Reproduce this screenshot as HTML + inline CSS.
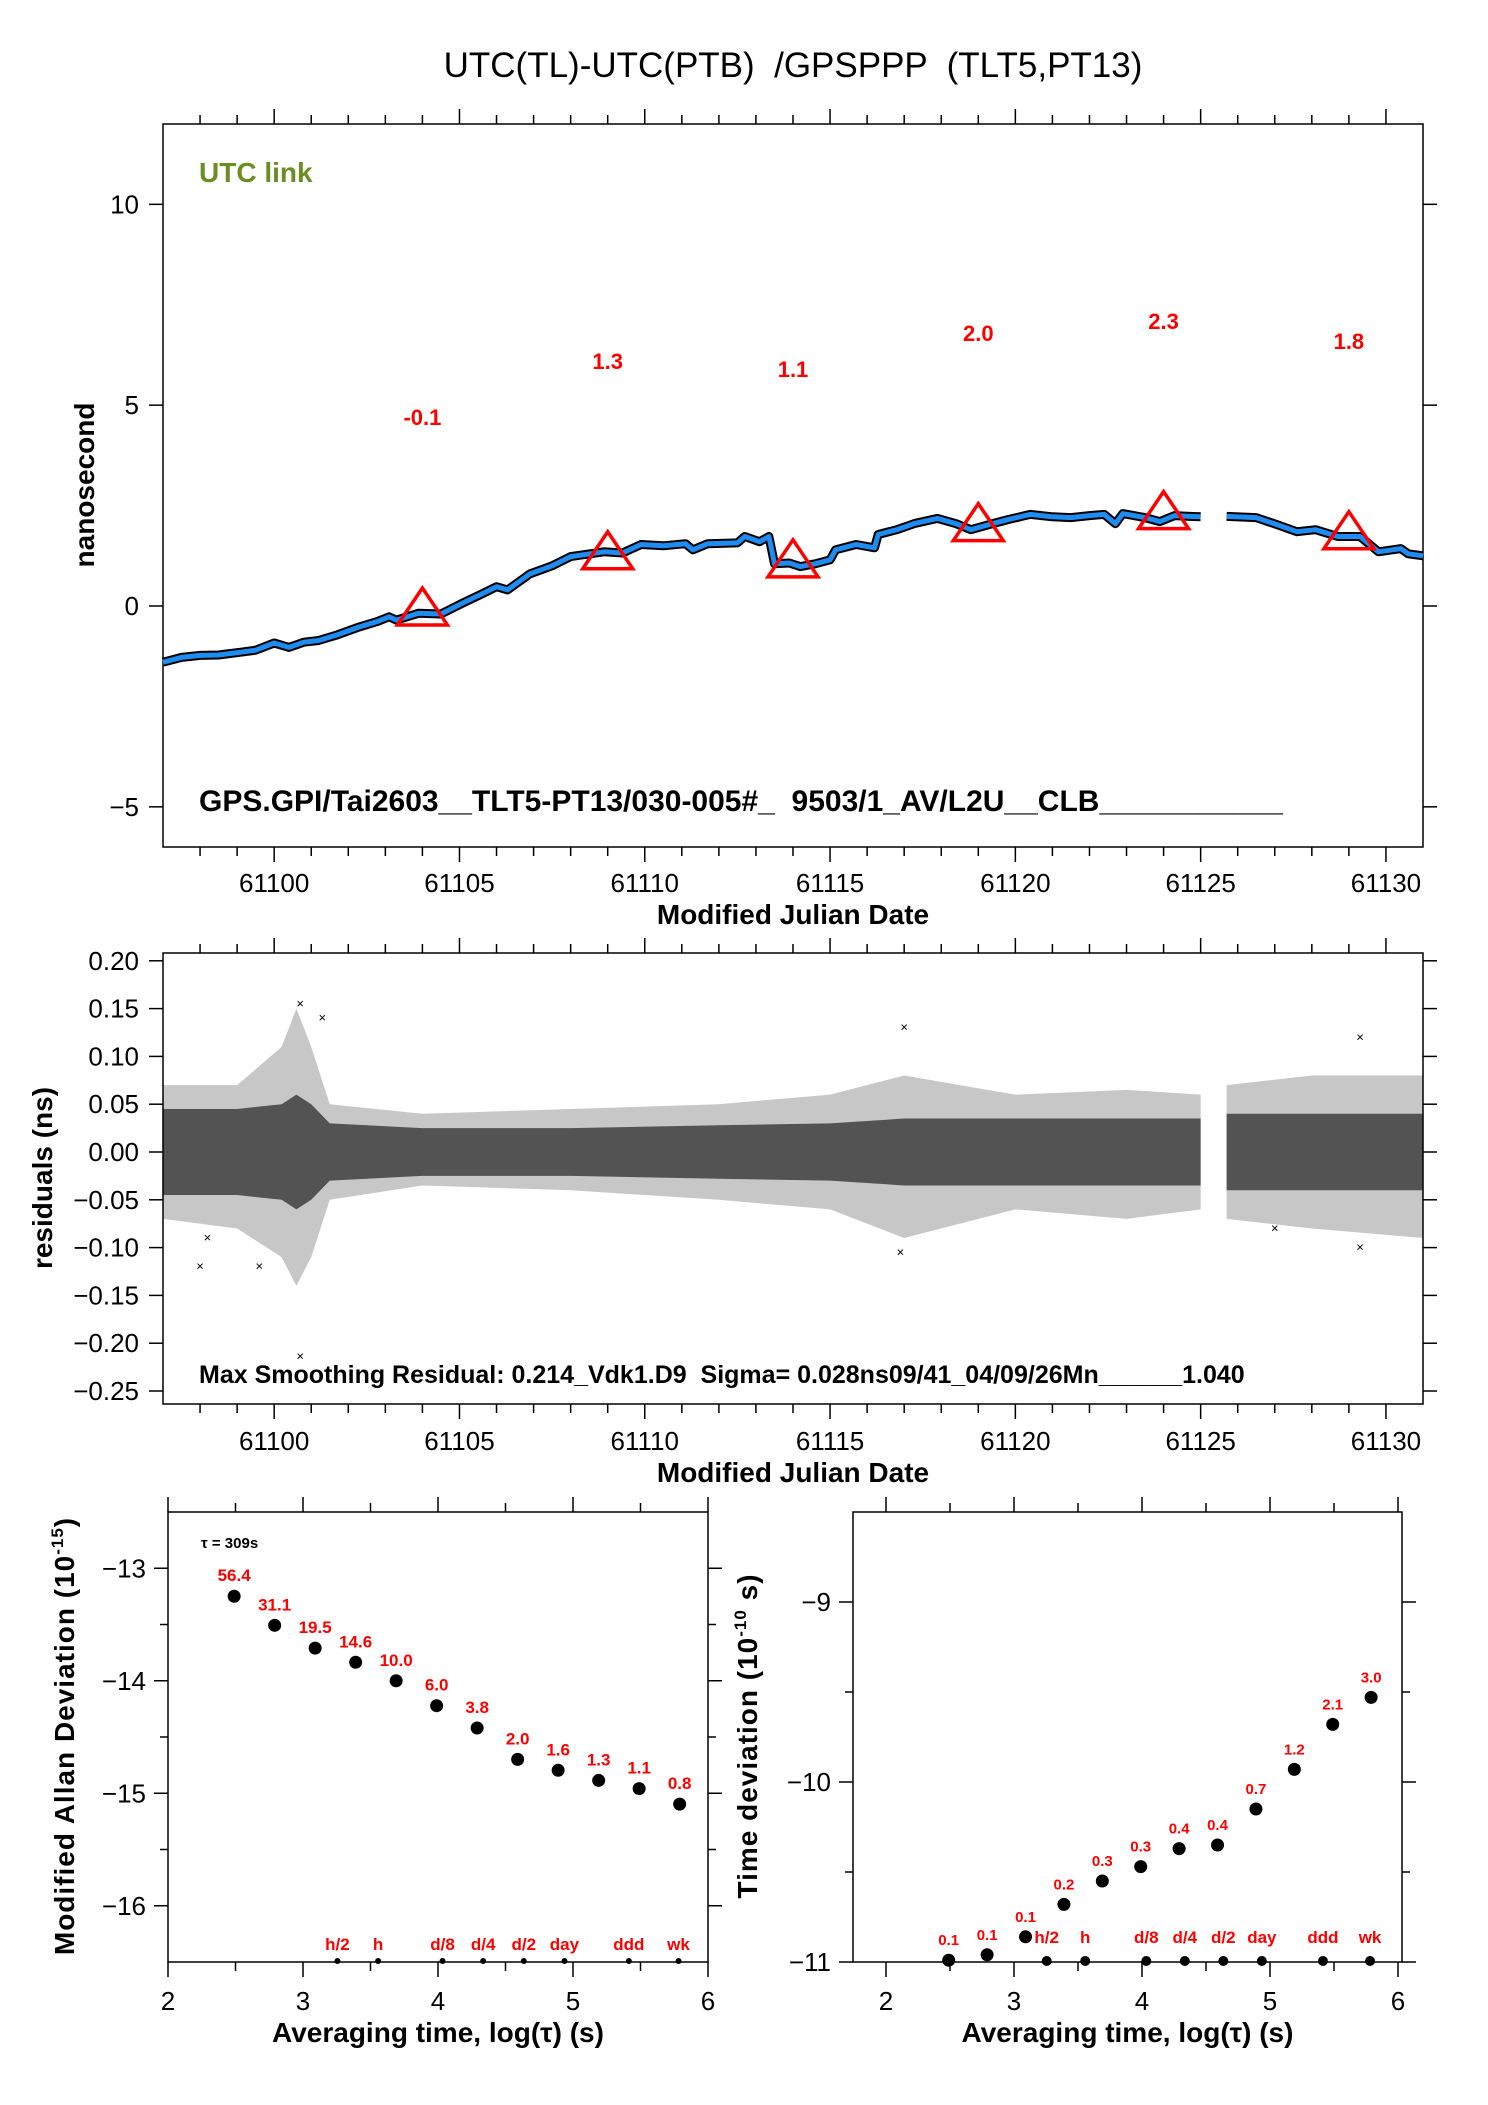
<!DOCTYPE html>
<html><head><meta charset="utf-8"><title>UTC(TL)-UTC(PTB) GPSPPP</title>
<style>
html,body{margin:0;padding:0;background:#fff;}
svg{display:block;font-family:"Liberation Sans",Arial,sans-serif;}
text{white-space:pre;}
</style></head>
<body>
<svg id="fig" width="1488" height="2105" viewBox="0 0 1488 2105" xmlns="http://www.w3.org/2000/svg" xml:space="preserve">
<rect x="0" y="0" width="1488" height="2105" fill="#fff"/>
<text x="793" y="77" font-size="35" text-anchor="middle">UTC(TL)-UTC(PTB)  /GPSPPP  (TLT5,PT13)</text>
<g id="top"></g>
<g id="mid"></g>
<g id="adev"></g>
<g id="tdev"></g>
</svg>
<script>
// ---------- top panel data ----------
const topDays = [61097.0,61097.5,61098.0,61098.5,61099.1,61099.5,61100.0,61100.4,61100.8,61101.2,61101.7,61102.3,61102.8,61103.1,61103.3,61103.9,61104.5,61105.1,61105.6,61106.0,61106.3,61106.9,61107.5,61108.0,61108.9,61109.4,61109.9,61110.5,61111.1,61111.3,61111.7,61112.5,61112.7,61113.1,61113.35,61113.5,61113.9,61114.2,61114.6,61115.0,61115.15,61115.7,61116.2,61116.3,61116.8,61117.3,61117.9,61118.4,61118.8,61119.3,61119.8,61120.4,61121.0,61121.5,61122.0,61122.4,61122.7,61122.9,61123.5,61123.9,61124.3,61124.7,61125.0,null,61125.7,61126.5,61127.05,61127.6,61128.1,61128.7,61129.3,61129.8,61130.4,61130.6,61131.0];
const topValues = [-1.40,-1.28,-1.23,-1.22,-1.15,-1.10,-0.92,-1.03,-0.90,-0.86,-0.72,-0.52,-0.38,-0.27,-0.35,-0.18,-0.20,0.08,0.30,0.48,0.40,0.80,1.00,1.23,1.35,1.32,1.53,1.50,1.55,1.40,1.55,1.57,1.73,1.60,1.73,1.05,1.07,0.98,1.05,1.15,1.40,1.53,1.45,1.78,1.90,2.06,2.18,2.05,1.90,2.03,2.15,2.28,2.22,2.20,2.25,2.28,2.05,2.30,2.20,2.10,2.25,2.23,2.22,null,2.23,2.20,2.03,1.85,1.90,1.73,1.73,1.35,1.43,1.30,1.25];
const triDays = [61104,61109,61114,61119,61124,61129];
const triValues = [-0.1,1.3,1.1,2.0,2.3,1.8];
const triLabels = ["-0.1","1.3","1.1","2.0","2.3","1.8"];
const mjdTicks = [61100,61105,61110,61115,61120,61125,61130];
const topYTicks = [10,5,0,-5];
const topYTickLabels = ["10","5","0","\u22125"];

// ---------- residuals data ----------
const resDays = [61097,61099,61100.2,61100.6,61101.0,61101.5,61104,61108,61112,61115,61117,61120,61123,61125,null,61125.7,61128,61131];
const resCoreHi = [0.045,0.045,0.05,0.06,0.05,0.03,0.025,0.025,0.028,0.03,0.035,0.035,0.035,0.035,null,0.04,0.04,0.04];
const resCoreLo = [-0.045,-0.045,-0.05,-0.06,-0.05,-0.03,-0.025,-0.025,-0.028,-0.03,-0.035,-0.035,-0.035,-0.035,null,-0.04,-0.04,-0.04];
const resOutHi = [0.07,0.07,0.11,0.15,0.11,0.05,0.04,0.045,0.05,0.06,0.08,0.06,0.065,0.06,null,0.07,0.08,0.08];
const resOutLo = [-0.07,-0.08,-0.11,-0.14,-0.11,-0.05,-0.035,-0.04,-0.05,-0.06,-0.09,-0.06,-0.07,-0.06,null,-0.07,-0.08,-0.09];
const outlierDays = [61100.7,61100.7,61098.0,61099.6,61117.0,61116.9,61129.3,61129.3,61098.2,61101.3,61127.0];
const outlierValues = [-0.214,0.155,-0.12,-0.12,0.13,-0.105,0.12,-0.10,-0.09,0.14,-0.08];
const resYTicks = [0.20,0.15,0.10,0.05,0.00,-0.05,-0.10,-0.15,-0.20,-0.25];
const resYTickLabels = ["0.20","0.15","0.10","0.05","0.00","\u22120.05","\u22120.10","\u22120.15","\u22120.20","\u22120.25"];

// ---------- stability data ----------
const logTau = [2.49,2.79,3.09,3.39,3.69,3.99,4.29,4.59,4.89,5.19,5.49,5.79];
const adevValues = [56.4,31.1,19.5,14.6,10.0,6.0,3.8,2.0,1.6,1.3,1.1,0.8];
const adevLabels = ["56.4","31.1","19.5","14.6","10.0","6.0","3.8","2.0","1.6","1.3","1.1","0.8"];
const tdevLog = [-10.99,-10.96,-10.86,-10.68,-10.55,-10.47,-10.37,-10.35,-10.15,-9.93,-9.68,-9.53];
const tdevLabels = ["0.1","0.1","0.1","0.2","0.3","0.3","0.4","0.4","0.7","1.2","2.1","3.0"];
const markerNames = ["h/2","h","d/8","d/4","d/2","day","ddd","wk"];
const markerSeconds = [1800,3600,10800,21600,43200,86400,259200,604800];
const logXTicks = [2,3,4,5,6];
const adevYTicks = [-13,-14,-15,-16];
const tdevYTicks = [-9,-10,-11];

const NS = "http://www.w3.org/2000/svg";
function mk(parent, tag, attrs, text){
  const e = document.createElementNS(NS, tag);
  for (const k in attrs) e.setAttribute(k, attrs[k]);
  if (text !== undefined) e.textContent = text;
  parent.appendChild(e);
  return e;
}
function lin(d0,d1,r0,r1){ return v => r0 + (v-d0)*(r1-r0)/(d1-d0); }

function frame(g, L, T, R, B){
  const f = mk(g,'rect',{x:L,y:T,width:R-L,height:B-T,fill:'none',stroke:'#000','stroke-width':1.5});
  
  
}
function xTicks(g, sx, vals, T, B, len){
  vals.forEach(v=>{
    const x = sx(v);
    const a = mk(g,'line',{x1:x,x2:x,y1:B,y2:B+len,stroke:'#000','stroke-width':1.5});
    
    
    const b = mk(g,'line',{x1:x,x2:x,y1:T,y2:T-len,stroke:'#000','stroke-width':1.5});
    
    
  });
}
function yTicks(g, sy, vals, L, R, len){
  vals.forEach(v=>{
    const y = sy(v);
    const a = mk(g,'line',{x1:L-len,x2:L,y1:y,y2:y,stroke:'#000','stroke-width':1.5});
    
    
    const b = mk(g,'line',{x1:R,x2:R+len,y1:y,y2:y,stroke:'#000','stroke-width':1.5});
    
    
  });
}
function label(g, x, y, txt, attrs, name){
  const t = mk(g,'text',Object.assign({x:x,y:y},attrs),txt);
  
  
  return t;
}

// ================= TOP PANEL =================
(function(){
  const g = document.getElementById('top');
  const L=163,R=1423,T=124,B=847;
  const sx = lin(61097,61131,L,R), sy = lin(12,-6,T,B);
  frame(g,L,T,R,B);
  const minor=[]; for(let d=61098; d<=61130; d++) if(d%5) minor.push(d);
  xTicks(g,sx,minor,T,B,9);
  xTicks(g,sx,mjdTicks,T,B,15);
  yTicks(g,sy,topYTicks,L,R,14);
  mjdTicks.forEach(v=>label(g,sx(v),892,String(v),{'font-size':26,'text-anchor':'middle'},'x-tick-label'));
  topYTicks.forEach((v,i)=>label(g,L-24,sy(v)+9,topYTickLabels[i],{'font-size':26,'text-anchor':'end'},'y-tick-label'));
  label(g,793,924,'Modified Julian Date',{'font-size':28,'font-weight':'bold','text-anchor':'middle'},'x-axis-title');
  label(g,0,0,'nanosecond',{'font-size':28,'font-weight':'bold','text-anchor':'middle',transform:'translate(94,485) rotate(-90)'},'y-axis-title');
  label(g,199,182,'UTC link',{'font-size':28,'font-weight':'bold',fill:'#6b8e23'},'series-label');
  label(g,199,811,'GPS.GPI/Tai2603__TLT5-PT13/030-005#_  9503/1_AV/L2U__CLB___________',{'font-size':30,'font-weight':'bold'},'link-id-text');
  let segs=[], cur=[];
  topDays.forEach((d,i)=>{ if(d===null){ if(cur.length) segs.push(cur); cur=[]; } else cur.push(sx(d).toFixed(1)+','+sy(topValues[i]).toFixed(1)); });
  if(cur.length) segs.push(cur);
  segs.forEach(s=>{
    const p = mk(g,'polyline',{points:s.join(' '),fill:'none',stroke:'#000','stroke-width':9,'stroke-linejoin':'round'});
    
    
  });
  segs.forEach(s=>{
    const p = mk(g,'polyline',{points:s.join(' '),fill:'none',stroke:'#1e8cf0','stroke-width':5,'stroke-linejoin':'round'});
    
    
  });
  triDays.forEach((d,i)=>{
    const x=sx(d), y=sy(triValues[i]);
    const t = mk(g,'polygon',{points:`${x},${y-22} ${x-25},${y+15} ${x+25},${y+15}`,fill:'none',stroke:'#ff0000','stroke-width':3.5});
    
    
    label(g,x,sy(triValues[i]+4.7)+4,triLabels[i],{'font-size':22,'font-weight':'bold',fill:'#ff0000','text-anchor':'middle'},'calibration-value');
  });
})();

// ================= RESIDUALS PANEL =================
(function(){
  const g = document.getElementById('mid');
  const L=163,R=1423,T=953,B=1404;
  const sx = lin(61097,61131,L,R), sy = lin(0,-0.25,1152,1391);
  frame(g,L,T,R,B);
  const minor=[]; for(let d=61098; d<=61130; d++) if(d%5) minor.push(d);
  xTicks(g,sx,minor,T,B,9);
  xTicks(g,sx,mjdTicks,T,B,15);
  yTicks(g,sy,resYTicks,L,R,14);
  mjdTicks.forEach(v=>label(g,sx(v),1450,String(v),{'font-size':26,'text-anchor':'middle'},'x-tick-label'));
  resYTicks.forEach((v,i)=>label(g,L-24,sy(v)+9,resYTickLabels[i],{'font-size':26,'text-anchor':'end'},'y-tick-label'));
  label(g,793,1482,'Modified Julian Date',{'font-size':28,'font-weight':'bold','text-anchor':'middle'},'x-axis-title');
  label(g,0,0,'residuals (ns)',{'font-size':28,'font-weight':'bold','text-anchor':'middle',transform:'translate(52,1178) rotate(-90)'},'y-axis-title');
  function band(hi,lo,fill,op,name){
    let up=[],dn=[];
    const flush=()=>{ if(up.length){ const p=mk(g,'polygon',{points:up.concat(dn.reverse()).join(' '),fill:fill,'fill-opacity':op});
      
       } up=[];dn=[]; };
    resDays.forEach((d,i)=>{ if(d===null){flush();return;} up.push(sx(d)+','+sy(hi[i])); dn.push(sx(d)+','+sy(lo[i])); });
    flush();
  }
  band(resOutHi,resOutLo,'#000',0.22,'residual-scatter-outer');
  band(resCoreHi,resCoreLo,'#000',0.58,'residual-scatter-core');
  outlierDays.forEach((d,i)=>{
    const o = mk(g,'text',{x:sx(d),y:sy(outlierValues[i])+4,'font-size':13,'text-anchor':'middle'},'\u00d7');
    
    
  });
  label(g,199,1383,'Max Smoothing Residual: 0.214_Vdk1.D9  Sigma= 0.028ns09/41_04/09/26Mn______1.040',{'font-size':25,'font-weight':'bold'},'residual-stats-text');
})();

// ================= STABILITY PANELS =================
function stabPanel(id, L, R, x2px, x6px, yMin, yMax, yTickVals, yvals, labels, ylabel, ylx, dotR){
  const g = document.getElementById(id);
  const T=1512,B=1962;
  const sx = lin(2,6,x2px,x6px), sy = lin(yMin,yMax,B,T);
  frame(g,L,T,R,B);
  xTicks(g,sx,[2.5,3.5,4.5,5.5],T,B,9);
  xTicks(g,sx,logXTicks,T,B,15);
  const minorY=[]; yTickVals.forEach(v=>{ if(v-0.5>yMin) minorY.push(v-0.5); });
  yTicks(g,sy,minorY,L,R,8);
  yTicks(g,sy,yTickVals,L,R,14);
  logXTicks.forEach(v=>label(g,sx(v),2010,String(v),{'font-size':26,'text-anchor':'middle'},'x-tick-label'));
  yTickVals.forEach(v=>label(g,L-22,sy(v)+9,'\u2212'+Math.abs(v),{'font-size':26,'text-anchor':'end'},'y-tick-label'));
  label(g,(L+R)/2,2042,'Averaging time, log(\u03c4) (s)',{'font-size':28,'font-weight':'bold','text-anchor':'middle'},'x-axis-title');
  const yt = mk(g,'text',{x:0,y:0,'font-size':28,'font-weight':'bold','letter-spacing':1,'text-anchor':'middle',transform:`translate(${ylx},1736) rotate(-90)`});
  
  
  yt.appendChild(document.createTextNode(ylabel[0]));
  mk(yt,'tspan',{'font-size':17,dy:-11},ylabel[1]);
  mk(yt,'tspan',{dy:11},ylabel[2]);
  logTau.forEach((v,i)=>{
    const cx=sx(v), cy=sy(yvals[i]);
    const c = mk(g,'circle',{cx:cx,cy:cy,r:6.5,fill:'#000'});
    
    
    label(g,cx,cy-15,labels[i],{'font-size':id==='adev'?17:15,'font-weight':'bold',fill:'#ff0000','text-anchor':'middle'},'point-value-label');
  });
  markerSeconds.forEach((s,i)=>{
    const x = sx(Math.log10(s));
    const d = mk(g,'circle',{cx:x,cy:B-1,r:dotR,fill:'#000'});
    
    
    label(g,x,B-(id==='adev'?12:19),markerNames[i],{'font-size':17,'font-weight':'bold',fill:'#ff0000','text-anchor':'middle'},'time-marker-label');
  });
  return {g,sx,sy};
}
const a = stabPanel('adev',168,708,168,708,-16.5,-12.5,adevYTicks,adevValues.map(v=>Math.log10(v*1e-15)),adevLabels,['Modified Allan Deviation (10','-15',')'],74,3);
label(a.g,201,1548,'\u03c4 = 309s',{'font-size':15,'font-weight':'bold'},'tau-annotation');
stabPanel('tdev',853,1402,886,1398,-11,-8.5,tdevYTicks,tdevLog,tdevLabels,['Time deviation (10','-10',' s)'],757,5);
</script>
</body></html>
